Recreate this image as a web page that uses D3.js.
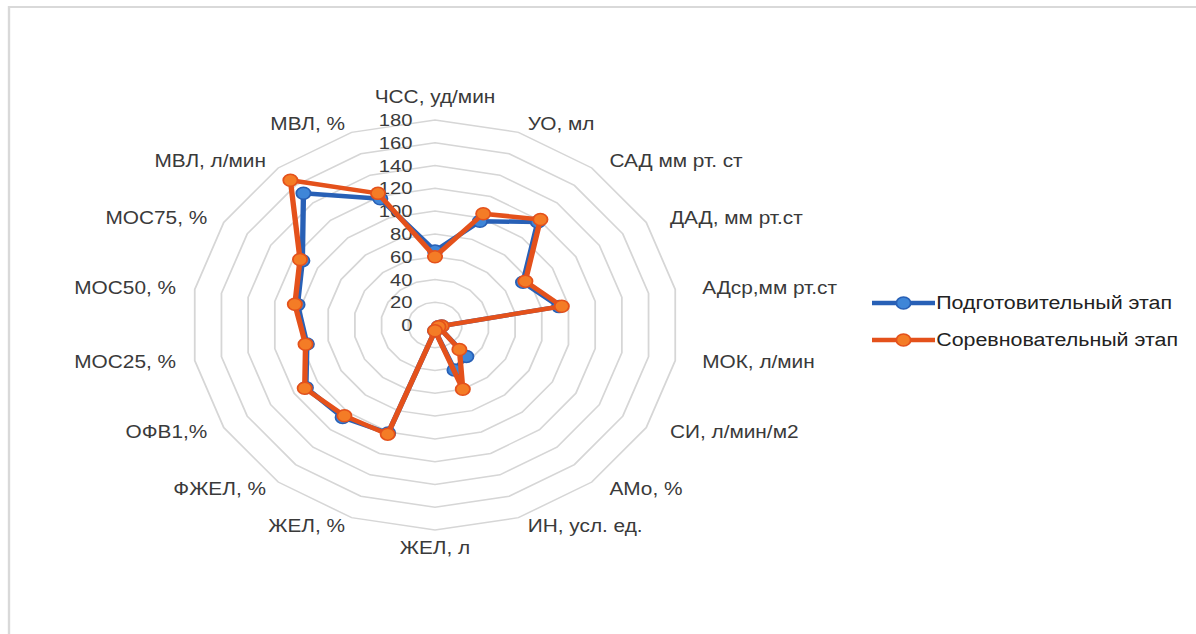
<!DOCTYPE html>
<html>
<head>
<meta charset="utf-8">
<script src="https://cdn.jsdelivr.net/npm/d3@7"></script>
<style>
html,body{margin:0;padding:0;background:#fff;}
svg{display:block;}
</style>
</head>
<body>
<div id="chart"></div>
<script>
const categories = ["ЧСС, уд/мин","УО, мл","САД мм рт. ст","ДАД, мм рт.ст","АДср,мм рт.ст","МОК, л/мин","СИ, л/мин/м2","АМо, %","ИН, усл. ед.","ЖЕЛ, л","ЖЕЛ, %","ФЖЕЛ, %","ОФВ1,%","МОС25, %","МОС50, %","МОС75, %","МВЛ, л/мин","МВЛ, %"];
const prepValues = [65, 97, 118, 75, 93, 5, 3, 36, 42, 5, 101, 106, 110, 96, 103, 113, 151, 118];
const compValues = [60, 104, 121, 77, 95, 5, 3, 28, 60, 5, 102, 104, 111, 97, 105, 115, 166, 123];
const tickValues = [0, 20, 40, 60, 80, 100, 120, 140, 160, 180];
const seriesNames = ["Подготовительный этап", "Соревновательный этап"];

const W = 1196, H = 634, SX = 1.19;
const VW = W / SX;
const FONT = "Liberation Sans, Arial, sans-serif";
const svg = d3.select("#chart").append("svg")
  .attr("width", W).attr("height", H)
  .attr("viewBox", `0 0 ${VW} ${H}`)
  .attr("preserveAspectRatio", "none");

// frame
svg.append("path")
  .attr("d", `M${VW + 5},${7} H${9 / SX} V${H + 5}`)
  .attr("fill", "none").attr("stroke", "#d9d9d9").attr("stroke-width", 2);

const cx = 435 / SX, cy = 325;
const r = d3.scaleLinear().domain([0, 180]).range([0, 205]);
const n = categories.length;
const ang = d3.scaleLinear().domain([0, n]).range([0, 2 * Math.PI]);
const g = svg.append("g").attr("transform", `translate(${cx},${cy})`);

// grid rings
const ring = d3.lineRadial().curve(d3.curveLinearClosed)
  .angle((d, i) => ang(i)).radius(d => r(d));
tickValues.filter(t => t > 0).forEach(t => {
  g.append("path").attr("d", ring(categories.map(() => t)))
    .attr("fill", "none").attr("stroke", "#d6d6d6").attr("stroke-width", 1.5);
});

// tick labels
g.selectAll("text.tick").data(tickValues).join("text")
  .attr("class", "tick")
  .attr("x", -19).attr("y", d => -r(d))
  .attr("dy", "0.36em")
  .attr("text-anchor", "end")
  .attr("font-family", FONT)
  .attr("font-size", 17).attr("fill", "#3a3a3a")
  .text(d => d);

// category labels
categories.forEach((c, i) => {
  const a = ang(i);
  const s = Math.sin(a), co = Math.cos(a);
  let anchor = "middle", rx = 224;
  if (s > 0.1) { anchor = "start"; rx = 228; }
  else if (s < -0.1) { anchor = "end"; rx = 221; }
  let ry = 214;
  if (Math.abs(co) > 0.99) ry = co > 0 ? 228 : 223;
  g.append("text")
    .attr("x", rx * s).attr("y", -ry * co)
    .attr("dy", "0.36em")
    .attr("text-anchor", anchor)
    .attr("font-family", FONT)
    .attr("font-size", 17.5).attr("fill", "#3a3a3a")
    .text(c);
});

const series = [
  {name: seriesNames[0], values: prepValues, line: "#2860b6", fill: "#3f86d8"},
  {name: seriesNames[1], values: compValues, line: "#e4511b", fill: "#f47c26"}
];
const line = d3.lineRadial().curve(d3.curveLinearClosed)
  .angle((d, i) => ang(i)).radius(d => r(d));

series.forEach(s => {
  g.append("path").attr("d", line(s.values))
    .attr("fill", "none").attr("stroke", s.line).attr("stroke-width", 4.5)
    .attr("stroke-linejoin", "round");
  g.selectAll(null).data(s.values).join("circle")
    .attr("cx", (d, i) => d3.pointRadial(ang(i), r(d))[0])
    .attr("cy", (d, i) => d3.pointRadial(ang(i), r(d))[1])
    .attr("r", 6)
    .attr("fill", s.fill).attr("stroke", s.line).attr("stroke-width", 1.5);
});

// legend
const leg = svg.append("g");
series.forEach((s, i) => {
  const y = 303 + i * 37;
  const x0 = 872 / SX, x1 = 935 / SX;
  leg.append("line").attr("x1", x0).attr("x2", x1).attr("y1", y).attr("y2", y)
    .attr("stroke", s.line).attr("stroke-width", 4.5);
  leg.append("circle").attr("cx", (x0 + x1) / 2).attr("cy", y).attr("r", 6)
    .attr("fill", s.fill).attr("stroke", s.line).attr("stroke-width", 1.5);
  leg.append("text").attr("x", x1 + 1).attr("y", y).attr("dy", "0.36em")
    .attr("font-family", FONT)
    .attr("font-size", 18).attr("fill", "#222")
    .text(s.name);
});
</script>
</body>
</html>
